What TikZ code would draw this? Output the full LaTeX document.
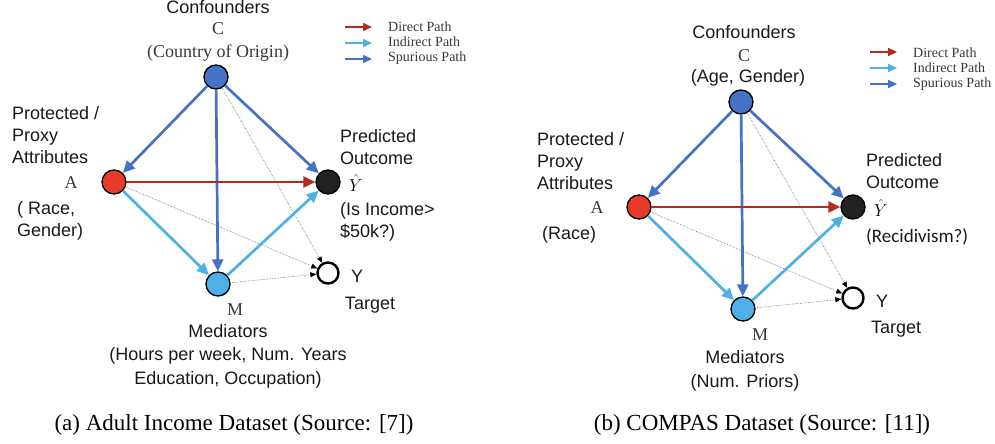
\documentclass[tikz,border=0pt]{standalone}
\usepackage{fontspec}
\setmainfont{Liberation Serif}
\setsansfont{Liberation Sans}
\newfontfamily\calfont{Carlito}
\usetikzlibrary{arrows.meta,positioning}

\definecolor{spurblue}{HTML}{4472C4}
\definecolor{indblue}{HTML}{4FB0E8}
\definecolor{dirred}{HTML}{B8281E}
\definecolor{nodered}{HTML}{E8392B}
\definecolor{outblack}{HTML}{222222}
\definecolor{labgray}{HTML}{383838}

\tikzset{
  var/.style={circle,draw=black,line width=1.3pt,minimum size=24pt,inner sep=0pt},
  spurarr/.style={-{Triangle[length=12pt,width=11pt]},line width=2.7pt,spurblue},
  indirectarr/.style={-{Triangle[length=12pt,width=11pt]},line width=2.7pt,indblue},
  directarr/.style={-{Triangle[length=12pt,width=11pt]},line width=2.7pt,dirred},
  dotarr/.style={-{Triangle[length=6pt,width=5pt,color=black]},densely dotted,line width=0.6pt,black!60},
  lab/.style={font=\sffamily\fontsize{18}{22}\selectfont,inner sep=0pt,text=black!90},
  sym/.style={font=\fontsize{18}{22}\selectfont,inner sep=0pt,text=labgray},
  hatlab/.style={font=\fontsize{16}{20}\selectfont,inner sep=0pt,anchor=base},
  leg/.style={font=\fontsize{14}{16}\selectfont,inner sep=0pt,anchor=base west,text=labgray},
  captxt/.style={font=\fontsize{23}{26}\selectfont,inner sep=0pt,anchor=base},
}

\begin{document}
\begin{tikzpicture}[x=1pt,y=-1pt]
  \useasboundingbox (0,0) rectangle (995,444);

  % both graphs: panel (b) is panel (a) moved by 525/25
  \foreach \p/\dx/\dy in {a/0/0,b/525/25} {
    \begin{scope}[shift={(\dx,\dy)}]
      \node[var,fill=spurblue] (\p C) at (216,77) {};
      \node[var,fill=nodered] (\p A) at (114,182) {};
      \node[var,fill=outblack] (\p Yh) at (328,182) {};
      \node[var,fill=indblue] (\p M) at (218,284) {};
      \node[var,fill=white,line width=2.4pt,minimum size=21pt] (\p Y) at (328,273) {};
      % legend
      \foreach \k/\st/\txt in {0/directarr/Direct Path,1/indirectarr/Indirect Path,2/spurarr/Spurious Path} {
        \coordinate (\p L\k s) at (345,27+16*\k);
        \coordinate (\p L\k e) at (372,27+16*\k);
        \draw[\st,line width=2.2pt,-{Triangle[length=9pt,width=8pt]}] (\p L\k s) -- (\p L\k e);
        \node[leg] (\p L\k t) at (388,32+15*\k) {\txt};
      }
    \end{scope}
    % thin links to the target
    \draw[dotarr] (\p A) -- (\p Y);
    \draw[dotarr] (\p C) -- (\p Y);
    \draw[dotarr] (\p M) -- (\p Y);
    % spurious, indirect, direct
    \draw[spurarr] (\p C) -- (\p A);
    \draw[spurarr] (\p C) -- (\p Yh);
    \draw[spurarr] (\p C) -- (\p M);
    \draw[indirectarr] (\p A) -- (\p M);
    \draw[indirectarr] (\p M) -- (\p Yh);
    \draw[directarr] (\p A) -- (\p Yh);
  }

  % labels (a), multi-line ones sit on their last line
  \node[lab,anchor=base] (aConf) at (218,14) {Confounders};
  \node[sym,anchor=base] (aClab) at (218,35) {C};
  \node[sym,anchor=base] (aCval) at (218,57) {(Country of Origin)};
  \node[lab,anchor=base west,align=left] (aAtxt) at (12,163) {Protected /\\Proxy\\Attributes};
  \node[sym,anchor=base] (aAlab) at (71,188) {A};
  \node[lab,anchor=base west,align=left] (aAval) at (17,236) {( Race,\\Gender)};
  \node[lab,anchor=base west,align=left] (aYhtxt) at (340,164) {Predicted\\Outcome};
  \node[hatlab] (aYhlab) at (356,191) {$\hat{Y}$};
  \node[lab,anchor=base west,align=left] (aYhval) at (340,237) {(Is Income>\\\$50k?)};
  \node[lab,anchor=base] (aYlab) at (357,282) {Y};
  \node[lab,anchor=base] (aYtxt) at (370,309) {Target};
  \node[sym,anchor=base] (aMlab) at (235,315) {M};
  \node[lab,anchor=base,align=center,font=\sffamily\fontsize{18}{23.5}\selectfont] (aMtxt) at (228,384)
    {Mediators\\(Hours per week, Num. Years\\Education, Occupation)};
  \node[captxt] (aCap) at (234,430) {(a) Adult Income Dataset (Source: [7])};

  % labels (b)
  \node[lab,anchor=base] (bConf) at (744,39) {Confounders};
  \node[sym,anchor=base] (bClab) at (744,61) {C};
  \node[lab,anchor=base] (bCval) at (748,82) {(Age, Gender)};
  \node[lab,anchor=base west,align=left] (bAtxt) at (537,189) {Protected /\\Proxy\\Attributes};
  \node[sym,anchor=base] (bAlab) at (597,213) {A};
  \node[lab,anchor=base west] (bAval) at (542,239) {(Race)};
  \node[lab,anchor=base west,align=left] (bYhtxt) at (866,188) {Predicted\\Outcome};
  \node[hatlab] (bYhlab) at (881,216) {$\hat{Y}$};
  \node[lab,anchor=base west,font=\calfont\fontsize{19}{22}\selectfont] (bYhval) at (866,242) {(Recidivism?)};
  \node[lab,anchor=base] (bYlab) at (882,307) {Y};
  \node[lab,anchor=base] (bYtxt) at (896,333) {Target};
  \node[sym,anchor=base] (bMlab) at (760,340) {M};
  \node[lab,anchor=base,align=center,font=\sffamily\fontsize{18}{23.5}\selectfont] (bMtxt) at (745,387)
    {Mediators\\(Num. Priors)};
  \node[captxt] (bCap) at (762,430) {(b) COMPAS Dataset (Source: [11])};
\end{tikzpicture}
\end{document}
